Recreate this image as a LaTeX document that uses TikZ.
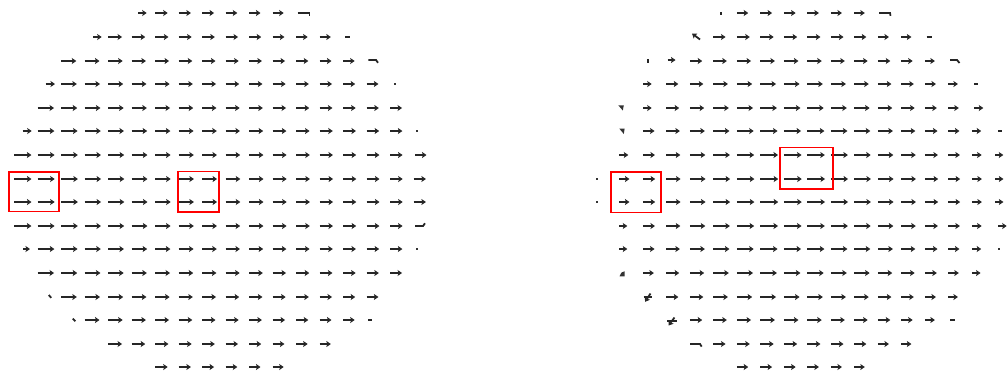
\documentclass[tikz,border=0pt]{standalone}
\usetikzlibrary{arrows.meta}
\begin{document}
\begin{tikzpicture}[x=1pt,y=-1pt,
  qarrow/.style={line width=1.8pt,black!85,-{Stealth[length=4.5pt,width=6pt,inset=1pt]}},
  qbit/.style={line width=1.8pt,black!85},
  qdot/.style={fill=black!80},
  redbox/.style={draw=red,line width=1.7pt}]
\useasboundingbox (0,0) rectangle (1008,376);
\clip (0,0) rectangle (1008,376);
% ---------- left field ----------
\foreach \i/\a/\b in {0/6/11,1/4/13,2/2/14,3/2/15,4/1/16,5/1/16,6/0/16,7/0/17,8/0/17,9/0/16,10/1/16,11/1/16,12/2/15,13/3/14,14/4/13,15/6/11}{
  \foreach \j in {\a,...,\b}{
    \pgfmathsetmacro\L{17.5-0.3*\j-3*((\i-7.5)/7.5)^2}
    \pgfmathsetmacro\X{14+23.5*\j}
    \pgfmathsetmacro\Y{round(13.3+23.6*\i)}
    \draw[qarrow] (\X,\Y) -- ++(\L,0);
  }
}
% left specials
\draw[qarrow] (138.3,13) -- (146.7,13);
\draw[qbit] (297.7,13) -- (309.5,13) -- (309.5,15.8);
\draw[qarrow] (93.3,37) -- (101.7,37);
\draw[qbit] (345,37) -- (350,37);
\draw[qbit] (368.3,60) -- (376,60) -- (378,62.8);
\draw[qarrow] (45.7,84) -- (55,84);
\fill[qdot] (393.7,83) rectangle (395.7,85);
\draw[qarrow] (22.7,131) -- (31.7,131);
\fill[qdot] (415.7,130) rectangle (417.7,132);
\draw[qarrow] (415,155) -- (426.5,155);
\draw[qbit] (415,226) -- (423,226) -- (425,223.3);
\draw[qarrow] (23,249) -- (30,249);
\fill[qdot] (415.7,248) rectangle (417.7,250);
\draw[qbit] (48.8,295) -- (51.2,297.8);
\draw[qbit] (72.8,318.6) -- (75.4,321.2);
\draw[qbit] (368,320) -- (372,320);
% ---------- right field ----------
\foreach \i/\a/\b in {0/6/11,1/5/13,2/4/14,3/3/15,4/3/15,5/2/16,6/2/17,7/1/17,8/1/17,9/2/16,10/2/16,11/2/16,12/3/15,13/4/14,14/5/13,15/6/11}{
  \foreach \j in {\a,...,\b}{
    \pgfmathsetmacro\dx{(\j<7.5)*1.3*(\j-7.5)+(\j>=7.5)*(\j-7.5)}
    \pgfmathsetmacro\dy{\i-7.5}
    \pgfmathsetmacro\L{max(8,18-7*(\dx*\dx+\dy*\dy)/64)}
    \pgfmathsetmacro\X{595.8+23.5*\j}
    \pgfmathsetmacro\Y{round(13.3+23.6*\i)}
    \draw[qarrow] (\X,\Y) -- ++(\L,0);
  }
}
% right specials
\draw[qbit] (720.7,11.8) -- (720.7,15);
\draw[qbit] (879,13) -- (890,13) -- (890.5,15.8);
\draw[qarrow] (700,39.5) -- (692,33.5);
\draw[qbit] (926.7,37) -- (931.7,37);
\draw[qbit] (648.3,59.3) -- (648.3,62.5);
\draw[qarrow] (667.5,60) -- (675.5,60);
\draw[qbit] (950,60) -- (957,60) -- (959.5,63);
\draw[qarrow] (643.3,84) -- (651.7,84);
\draw[qbit] (974.3,84) -- (978.3,84);
\fill[qdot] (618.3,105.3) -- (623.8,105.3) -- (622.8,110.5) -- cycle;
\draw[qarrow] (643.3,108) -- (651.7,108);
\draw[qarrow] (974.3,108) -- (983.3,108);
\fill[qdot] (619.3,128.6) -- (624.6,128.6) -- (623.8,134) -- cycle;
\draw[qbit] (998,131) -- (1001.7,131);
\draw[qarrow] (619.3,155) -- (628.3,155);
\fill[qdot] (595.7,178) rectangle (597.7,180);
\fill[qdot] (595.7,201) rectangle (597.7,203);
\draw[qarrow] (619.3,226) -- (627.3,226);
\draw[qarrow] (998.3,226) -- (1006.7,226);
\draw[qarrow] (619.3,249) -- (627.3,249);
\fill[qdot] (998,248) rectangle (1000,250);
\fill[qdot] (619.5,276.3) -- (624.5,276.3) -- (624.5,271.3) -- (621.5,272.5) -- cycle;
\draw[qbit] (643.5,297) -- (651.5,297);
\draw[qarrow] (650.5,293.5) -- (645,301.8);
\draw[qbit] (667,321) -- (676.5,321);
\draw[qarrow] (674.5,317.5) -- (668.5,325.5);
\draw[qbit] (950,320) -- (955,320);
\draw[qbit] (690,344) -- (700,344) -- (701.7,346.6);
% ---------- red boxes ----------
\draw[redbox] (9,172) rectangle (59,211.5);
\draw[redbox] (178,171.5) rectangle (219,212);
\draw[redbox] (611,172) rectangle (661,212.5);
\draw[redbox] (780,147.5) rectangle (833,189.3);
\end{tikzpicture}
\end{document}
